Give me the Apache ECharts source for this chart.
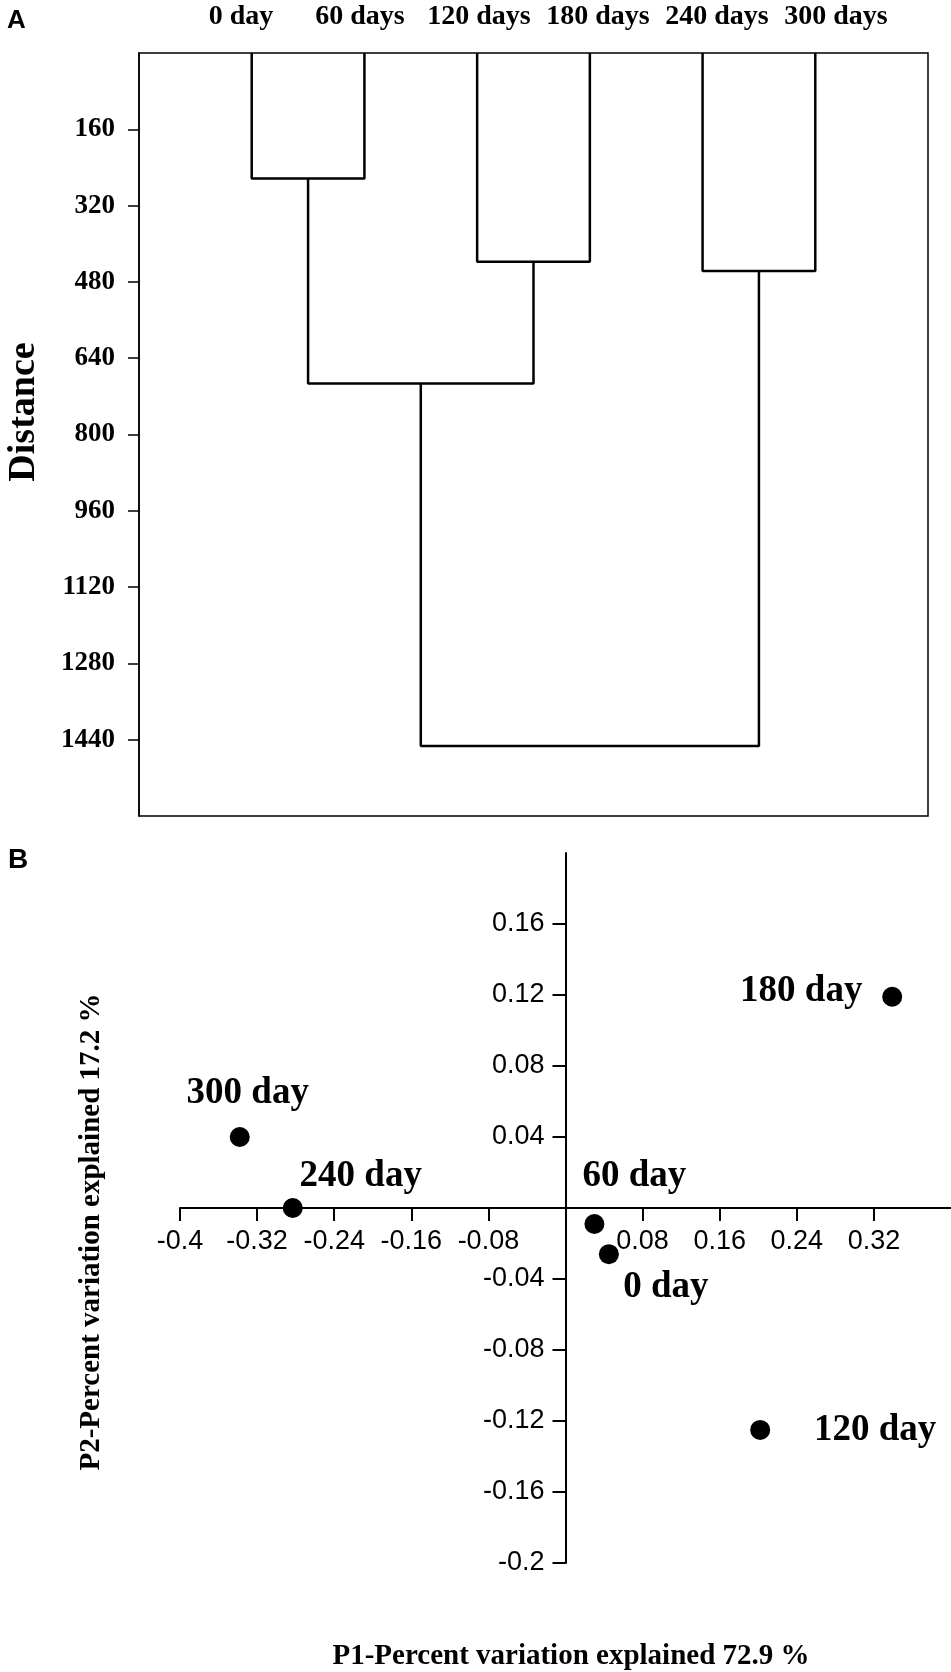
<!DOCTYPE html>
<html><head><meta charset="utf-8">
<script src="https://cdn.jsdelivr.net/npm/echarts@6/dist/echarts.min.js"></script>
<style>html,body{margin:0;padding:0;background:#fff}#c{width:951px;height:1672px}</style>
</head><body><div id="c"></div>
<script>
// ---------- Panel A: dendrogram data ----------
const leaves = ['0 day', '60 days', '120 days', '180 days', '240 days', '300 days'];
const leafPos = [1, 2, 3, 4, 5, 6];
// merges: [nodeA, nodeB, distance]; nodes 0-5 are leaves, 6.. are merges in order
const merges = [[0, 1, 263], [2, 3, 438], [4, 5, 457], [6, 7, 693], [9, 8, 1453]];
const distanceTicks = [160, 320, 480, 640, 800, 960, 1120, 1280, 1440];

// ---------- Panel B: PCA data ----------
const pcaNames = ['0 day', '60 day', '120 day', '180 day', '240 day', '300 day'];
const pc1 = [0.045, 0.030, 0.202, 0.339, -0.283, -0.338];
const pc2 = [-0.026, -0.009, -0.125, 0.119, 0.000, 0.040];
const pc1Ticks = [-0.4, -0.32, -0.24, -0.16, -0.08, 0.08, 0.16, 0.24, 0.32];
const pc2Ticks = [0.16, 0.12, 0.08, 0.04, -0.04, -0.08, -0.12, -0.16, -0.2];
// label offsets (px, relative to point centre) - styling only
const labelOffsets = [[57, 33], [40, -48], [115, 1], [-91, -5], [68, -32], [8, -44]];

// ---------- build dendrogram links ----------
const nodeX = leafPos.slice();
const nodeH = leafPos.map(() => 0);
const linkSeries = merges.map(m => {
  const [a, b, h] = m;
  const xa = nodeX[a], xb = nodeX[b];
  nodeX.push((xa + xb) / 2);
  nodeH.push(h);
  return {
    type: 'line', xAxisIndex: 0, yAxisIndex: 0, symbol: 'none', silent: true,
    lineStyle: { color: '#000', width: 2.5 },
    data: [[xa, nodeH[a]], [xa, h], [xb, h], [xb, nodeH[b]]]
  };
});

const serif = 'Liberation Serif';
const sans = 'Liberation Sans';
const fmt = v => String(+(+v).toFixed(2));
const SYM = 20;

// panel B grid geometry (layout)
const gB = { left: 180, top: 853, width: 771, height: 710 };
const xMinB = -0.4, xMaxB = 0.4, yMinB = -0.2, yMaxB = 0.2;
// move axis lines onto the zero lines of the other axis
const xAxisOffsetB = -(gB.height * (0 - yMinB) / (yMaxB - yMinB));
const yAxisOffsetB = -(gB.width * (0 - xMinB) / (xMaxB - xMinB));

const chart = echarts.init(document.getElementById('c'), null, { renderer: 'canvas' });
chart.setOption({
  backgroundColor: '#fff',
  animation: false,
  grid: [
    { left: 139, top: 53, width: 789, height: 763, show: true, borderColor: '#000', borderWidth: 1.5, containLabel: false },
    { left: gB.left, top: gB.top, width: gB.width, height: gB.height, containLabel: false }
  ],
  xAxis: [
    { type: 'value', gridIndex: 0, min: 0, max: 7, show: false },
    { type: 'value', gridIndex: 0, position: 'top', min: 0.1429, max: 6.773,
      axisLine: { show: false }, axisTick: { show: false }, splitLine: { show: false },
      axisLabel: { customValues: leafPos, formatter: v => leaves[Math.round(v) - 1] || '',
        fontFamily: serif, fontWeight: 'bold', fontSize: 28, color: '#000', margin: 22 } },
    { type: 'value', gridIndex: 1, min: xMinB, max: xMaxB, interval: 0.08, position: 'bottom', offset: xAxisOffsetB,
      axisLine: { onZero: false, lineStyle: { color: '#000', width: 2 } },
      axisTick: { customValues: pc1Ticks, length: 13, lineStyle: { color: '#000', width: 2 } },
      axisLabel: { customValues: pc1Ticks, formatter: fmt, fontFamily: sans, fontSize: 27, color: '#000', margin: 20 },
      splitLine: { show: false } }
  ],
  yAxis: [
    { type: 'value', gridIndex: 0, inverse: true, min: 0, max: 1600, interval: 160,
      axisLine: { show: true, lineStyle: { color: '#000', width: 1.5 } },
      axisTick: { customValues: distanceTicks, length: 11, lineStyle: { color: '#000', width: 1.5 } },
      axisLabel: { customValues: distanceTicks, formatter: v => String(Math.round(v)),
        fontFamily: serif, fontWeight: 'bold', fontSize: 27, color: '#000', margin: 24 },
      splitLine: { show: false } },
    { type: 'value', gridIndex: 1, min: yMinB, max: yMaxB, interval: 0.04, position: 'left', offset: yAxisOffsetB,
      axisLine: { onZero: false, lineStyle: { color: '#000', width: 2 } },
      axisTick: { customValues: pc2Ticks, length: 13, lineStyle: { color: '#000', width: 2 } },
      axisLabel: { customValues: pc2Ticks, formatter: fmt, fontFamily: sans, fontSize: 27, color: '#000', margin: 21 },
      splitLine: { show: false } }
  ],
  graphic: [
    { type: 'text', left: 7, top: 8, style: { text: 'A', font: 'bold 26px "Liberation Sans"', fill: '#000' } },
    { type: 'text', left: 8, top: 846, style: { text: 'B', font: 'bold 28px "Liberation Sans"', fill: '#000' } },
    { type: 'text', x: 24, y: 412, rotation: Math.PI / 2,
      style: { text: 'Distance', font: 'bold 38px "Liberation Serif"', fill: '#000', align: 'center', verticalAlign: 'middle' } },
    { type: 'text', x: 92, y: 1232, rotation: Math.PI / 2,
      style: { text: 'P2-Percent variation explained 17.2 %', font: 'bold 29px "Liberation Serif"', fill: '#000', align: 'center', verticalAlign: 'middle' } },
    { type: 'text', x: 571, y: 1657,
      style: { text: 'P1-Percent variation explained 72.9 %', font: 'bold 29px "Liberation Serif"', fill: '#000', align: 'center', verticalAlign: 'middle' } }
  ],
  series: linkSeries.concat([{
    type: 'scatter', xAxisIndex: 2, yAxisIndex: 1, symbol: 'circle', symbolSize: SYM,
    itemStyle: { color: '#000', opacity: 1 }, silent: true,
    data: pc1.map((x, i) => ({
      name: pcaNames[i], value: [x, pc2[i]],
      label: { show: true, formatter: '{b}', position: [SYM / 2 + labelOffsets[i][0], SYM / 2 + labelOffsets[i][1]],
        align: 'center', verticalAlign: 'middle', opacity: 1,
        fontFamily: serif, fontWeight: 'bold', fontSize: 37, color: '#000' }
    }))
  }])
});
</script></body></html>
